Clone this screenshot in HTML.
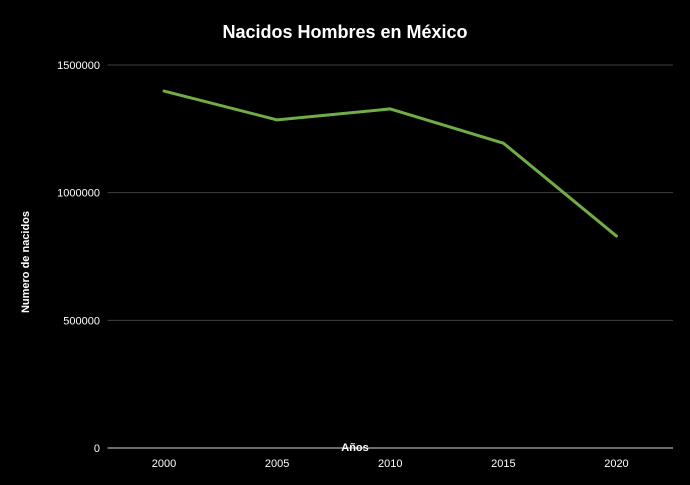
<!DOCTYPE html>
<html><head><meta charset="utf-8"><style>
html,body{margin:0;padding:0;background:#000;}
svg{display:block;font-family:"Liberation Sans",sans-serif;}
</style></head><body>
<svg id="chart" width="690" height="485"></svg>
<script>
const categories=["2000","2005","2010","2015","2020"];
const seriesValues=[1398000,1285000,1328000,1194000,830000];
const yTicks=[0,500000,1000000,1500000];
const yTickLabels=["0","500000","1000000","1500000"];
const ns="http://www.w3.org/2000/svg";
const svg=document.getElementById('chart');
const L=107.5,R=673,T=65,B=448,yMax=1500000;
const y=v=>B-(v/yMax)*(B-T);
const bw=(R-L)/categories.length;
const x=i=>L+bw*(i+0.5);
function mk(tag,attrs,txt){const e=document.createElementNS(ns,tag);for(const k in attrs)e.setAttribute(k,attrs[k]);if(txt!==undefined)e.textContent=txt;svg.appendChild(e);return e;}
let t=mk('text',{x:345,y:38,'text-anchor':'middle',fill:'#fff','font-size':'18','font-weight':'bold'},'Nacidos Hombres en México');


yTicks.forEach((v,i)=>{
  const g=mk('line',{x1:L,x2:R,y1:y(v),y2:y(v),stroke:v===0?'#d9d9d9':'#404040','stroke-width':1});
  
  
  const l=mk('text',{x:100,y:y(v)+4,'text-anchor':'end',fill:'#fff','font-size':'11'},yTickLabels[i]);
  
  
});
categories.forEach((c,i)=>{
  const l=mk('text',{x:x(i),y:467,'text-anchor':'middle',fill:'#fff','font-size':'11'},c);
  
  
});
const pts=seriesValues.map((v,i)=>x(i)+','+y(v)).join(' ');
const p=mk('polyline',{points:pts,fill:'none',stroke:'#70ad47','stroke-width':3,'stroke-linejoin':'round','stroke-linecap':'round'});


const xt=mk('text',{x:355,y:451,'text-anchor':'middle',fill:'#fff','font-size':'11','font-weight':'bold'},'Años');


const yt=mk('text',{x:0,y:0,transform:'translate(29,262) rotate(-90)','text-anchor':'middle',fill:'#fff','font-size':'11','font-weight':'bold'},'Numero de nacidos');


</script>
</body></html>
